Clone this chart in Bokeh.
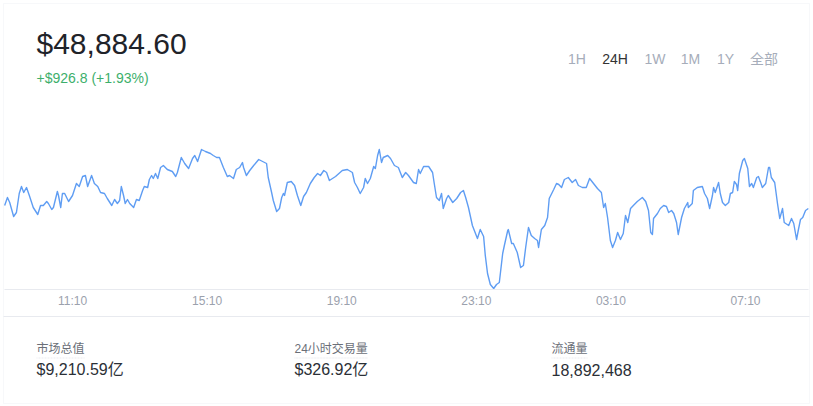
from bokeh.plotting import figure
from bokeh.models import Range1d, Label, BoxAnnotation
from bokeh.embed import file_html
from bokeh.resources import INLINE

# ---- data (minutes since 00:00 of the first day, price in USD) ----
times = [
    549, 554, 558, 565, 570, 575, 579, 583, 588, 593,
    600, 608, 613, 618, 624, 627, 633, 636, 643, 645,
    649, 652, 656, 663, 670, 677, 682, 688, 693, 697,
    704, 709, 715, 720, 727, 732, 740, 745, 750, 754,
    757, 761, 764, 768, 772, 779, 784, 789, 795, 798,
    804, 807, 811, 814, 818, 822, 827, 832, 839, 848,
    854, 857, 864, 870, 877, 884, 888, 893, 900, 907,
    916, 921, 927, 932, 939, 946, 950, 957, 962, 968,
    973, 975, 980, 986, 993, 1002, 1009, 1016, 1019, 1025,
    1028, 1034, 1039, 1043, 1046, 1048, 1053, 1060, 1066, 1071,
    1077, 1082, 1087, 1094, 1101, 1107, 1112, 1118, 1123, 1128,
    1139, 1151, 1160, 1169, 1173, 1178, 1183, 1189, 1192, 1196,
    1201, 1207, 1210, 1214, 1217, 1221, 1224, 1232, 1237, 1244,
    1251, 1258, 1264, 1269, 1278, 1283, 1287, 1290, 1296, 1305,
    1312, 1315, 1319, 1324, 1328, 1331, 1337, 1340, 1348, 1355,
    1362, 1367, 1371, 1376, 1383, 1392, 1397, 1403, 1406, 1410,
    1415, 1421, 1426, 1431, 1437, 1440, 1446, 1447, 1453, 1456,
    1463, 1469, 1474, 1478, 1483, 1488, 1494, 1499, 1501, 1506,
    1512, 1517, 1520, 1528, 1533, 1537, 1542, 1547, 1554, 1561,
    1567, 1572, 1579, 1586, 1592, 1599, 1606, 1613, 1617, 1620,
    1624, 1629, 1633, 1638, 1642, 1647, 1652, 1656, 1660, 1665,
    1670, 1677, 1686, 1692, 1697, 1701, 1704, 1706, 1713, 1718,
    1724, 1729, 1733, 1738, 1742, 1747, 1750, 1756, 1761, 1767,
    1768, 1775, 1777, 1784, 1793, 1797, 1802, 1806, 1811, 1813,
    1816, 1822, 1825, 1829, 1834, 1840, 1843, 1847, 1850, 1854,
    1856, 1859, 1865, 1868, 1874, 1877, 1881, 1884, 1890, 1893,
    1897, 1900, 1906, 1911, 1913, 1916, 1922, 1927, 1931, 1936,
    1939, 1947, 1952, 1956, 1961, 1964, 1968, 1972, 1977, 1982,
]
prices = [
    48915, 48995, 48945, 48805, 48845, 49035, 49105, 49045, 49095, 49015,
    48895, 48825, 48915, 48915, 48955, 48935, 48875, 48895, 49055, 49015,
    48895, 49035, 49035, 48955, 49015, 49135, 49105, 49205, 49215, 49105,
    49215, 49135, 49105, 49045, 49035, 48985, 48915, 48975, 48935, 48965,
    49105, 49015, 48935, 48975, 48935, 48895, 48975, 48965, 49065, 49105,
    49095, 49175, 49215, 49185, 49235, 49185, 49295, 49315, 49275, 49255,
    49205, 49245, 49395, 49335, 49285, 49385, 49415, 49355, 49475, 49455,
    49435, 49415, 49395, 49395, 49295, 49205, 49215, 49185, 49275, 49295,
    49345, 49295, 49215, 49265, 49315, 49375, 49355, 49335, 49195, 49045,
    48965, 48855, 48885, 48995, 49035, 49015, 49145, 49155, 49115, 49015,
    48915, 49005, 49045, 49135, 49195, 49235, 49215, 49265, 49245, 49165,
    49205, 49265, 49275, 49245, 49145, 49095, 49035, 49095, 49185, 49135,
    49185, 49305, 49285, 49415, 49475, 49345, 49395, 49415, 49385, 49315,
    49295, 49195, 49245, 49215, 49145, 49135, 49275, 49235, 49305, 49305,
    49245, 49135, 48995, 48965, 49035, 48885, 48985, 49015, 48945, 48985,
    49045, 49065, 48995, 48895, 48715, 48585, 48675, 48605, 48415, 48235,
    48125, 48085, 48125, 48145, 48435, 48515, 48665, 48675, 48535, 48535,
    48445, 48295, 48315, 48495, 48695, 48615, 48585, 48565, 48495, 48675,
    48715, 48795, 48985, 49075, 49135, 49125, 49095, 49175, 49195, 49145,
    49175, 49115, 49095, 49095, 49185, 49135, 49085, 49045, 48895, 48935,
    48795, 48565, 48495, 48565, 48645, 48575, 48635, 48815, 48745, 48885,
    48915, 48955, 48995, 48955, 48865, 48645, 48625, 48785, 48835, 48885,
    48915, 48905, 48845, 48865, 48835, 48745, 48625, 48795, 48885, 48945,
    48895, 48935, 49065, 49095, 49105, 49035, 48985, 48885, 49015, 49095,
    49045, 49145, 49035, 48945, 48915, 48945, 49035, 49045, 49155, 49125,
    49065, 49235, 49365, 49385, 49285, 49105, 49135, 49095, 49195, 49205,
    49145, 49095, 49135, 49295, 49295, 49195, 49145, 48935, 48785, 48885,
    48745, 48715, 48785, 48735, 48575, 48665, 48775, 48795, 48865, 48884.6,
]
assert len(times) == len(prices)

tick_minutes = [670, 910, 1150, 1390, 1630, 1870]
tick_labels = ["11:10", "15:10", "19:10", "23:10", "03:10", "07:10"]

price_now = "$48,884.60"
change_text = "+$926.8 (+1.93%)"
range_buttons = ["1H", "24H", "1W", "1M", "1Y", "全部"]
active_button = "24H"
stat_names = ["市场总值", "24小时交易量", "流通量"]
stat_values = ["$9,210.59亿", "$326.92亿", "18,892,468"]

# ---- layout: the plot frame fills the whole canvas (813 x 406) ----
W, H = 813, 406
LATIN = "'Liberation Sans', 'Noto Sans CJK SC'"

p = figure(width=W, height=H, output_backend="svg", toolbar_location=None,
           x_range=Range1d(541.6, 1991.2), y_range=Range1d(46905, 50965),
           x_axis_location=None, y_axis_location=None, min_border=0,
           min_border_left=0, min_border_right=0, min_border_top=0, min_border_bottom=0)
p.outline_line_color = None
p.background_fill_color = "white"
p.border_fill_color = "white"
p.xgrid.visible = False
p.ygrid.visible = False


def sy(y):
    return H - y


def label(text, x, yc, size, color, font=LATIN, align="left", x_units="screen"):
    # yc: vertical centre of the glyphs, in page pixels from the top
    p.add_layout(Label(x=x, y=sy(yc), x_units=x_units, y_units="screen", text=text,
                       text_font_size=f"{size}px", text_color=color,
                       text_font=font, text_baseline="middle",
                       text_align=align))


def hbox(x0, x1, y0, y1, **kw):
    p.add_layout(BoxAnnotation(left=x0, right=x1, top=sy(y0), bottom=sy(y1),
                               left_units="screen", right_units="screen",
                               top_units="screen", bottom_units="screen", **kw))


# card border
hbox(3, 809, 3, 403, fill_alpha=0, line_color="#e6e8ee", line_width=1)
# axis line and separator under the time labels
hbox(4, 808, 288.5, 289.5, fill_color="#e8eaef", fill_alpha=1, line_color=None)
hbox(3, 809, 315.5, 316.5, fill_color="#e8eaef", fill_alpha=1, line_color=None)

# price line
p.line(times, prices, line_color="#5f9df3", line_width=1.4, line_join="round")

# time labels placed on the time scale
for t, lab in zip(tick_minutes, tick_labels):
    label(lab, t, 300.5, 12, "#9ba1ad", font="Liberation Sans", align="center", x_units="data")

# header
label(price_now, 36, 42.5, 30, "#1f2329")
label(change_text, 36, 77.5, 14, "#3daf6b")
btn_centers = [576.5, 614.5, 654.5, 690, 725, 763.5]
for t, cx in zip(range_buttons, btn_centers):
    label(t, cx, 58, 14, "#333333" if t == active_button else "#a6adba", align="center")

# stats
stat_x = [36, 294, 551]
for name, val, x in zip(stat_names, stat_values, stat_x):
    label(name, x, 348.5, 12, "#6b6f78")
    label(val, x, 369, 16, "#2b2f36")
    w = sum(12 if ord(c) > 255 else 6.7 for c in name)
    hbox(x, x + w, 357.5, 357.5, fill_alpha=0, line_color="#b9bec8", line_width=1,
         line_dash="1 2")

open("out.html", "w").write(file_html(p, INLINE))
